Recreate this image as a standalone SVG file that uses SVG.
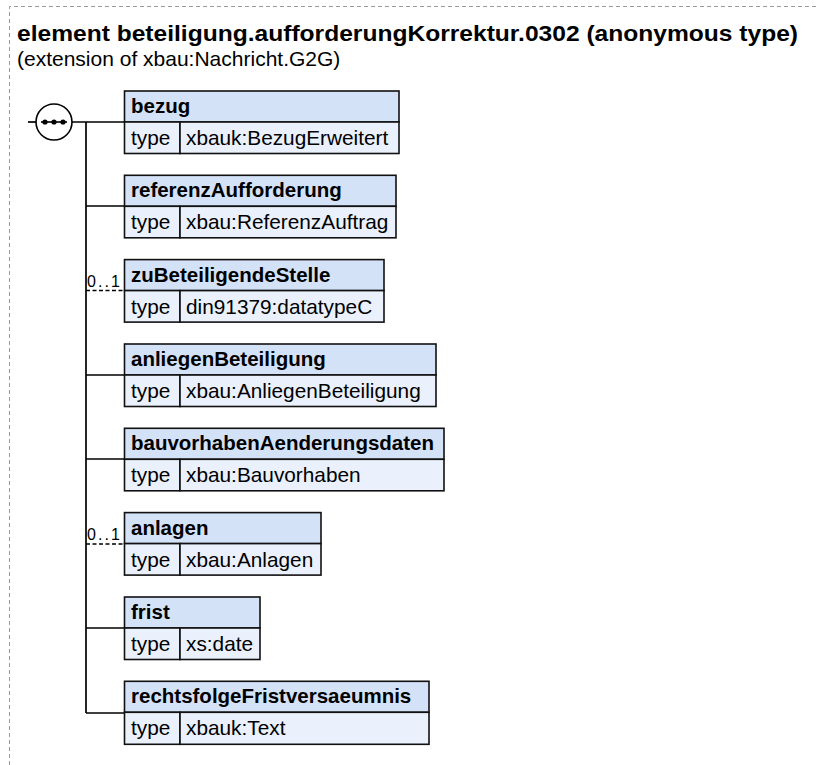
<svg xmlns="http://www.w3.org/2000/svg" width="819" height="765" viewBox="0 0 819 765">
<style>
.hd{fill:#d4e2f8;stroke:#111;stroke-width:1.6}
.ty{fill:#eaf1fc;stroke:#111;stroke-width:1.6}
.nm{font-family:"Liberation Sans",Arial,sans-serif;font-size:20.5px;font-weight:bold;fill:#000}
.tx{font-family:"Liberation Sans",Arial,sans-serif;font-size:20.8px;fill:#000}
.ln{stroke:#000;stroke-width:1.7;fill:none}
.opt{stroke:#000;stroke-width:1.4;fill:none;stroke-dasharray:4,2.5}
.oc{font-family:"Liberation Sans",Arial,sans-serif;font-size:16px;fill:#000}
</style>
<rect width="819" height="765" fill="#fff"/>
<path d="M9.5,765 V6.5 H819" fill="none" stroke="#9a9a9a" stroke-width="1" stroke-dasharray="4,3"/>
<text x="17" y="41" font-family="Liberation Sans,Arial,sans-serif" font-size="22" font-weight="bold" textLength="781" lengthAdjust="spacingAndGlyphs">element beteiligung.aufforderungKorrektur.0302 (anonymous type)</text>
<text x="17" y="66" font-family="Liberation Sans,Arial,sans-serif" font-size="21">(extension of xbau:Nachricht.G2G)</text>
<g id="connectors">
<line class="ln" x1="28" y1="122" x2="36" y2="122"/>
<line class="ln" x1="72" y1="122" x2="125" y2="122"/>
<line class="ln" x1="86" y1="122" x2="86" y2="713"/>
<line class="ln" x1="86" y1="206" x2="125" y2="206"/>
<line class="opt" x1="86" y1="290.5" x2="125" y2="290.5"/>
<line class="ln" x1="86" y1="375" x2="125" y2="375"/>
<line class="ln" x1="86" y1="459" x2="125" y2="459"/>
<line class="opt" x1="86" y1="544" x2="125" y2="544"/>
<line class="ln" x1="86" y1="628" x2="125" y2="628"/>
<line class="ln" x1="86" y1="713" x2="125" y2="713"/>
<text class="oc" x="87" y="287" textLength="33" lengthAdjust="spacing">0..1</text>
<text class="oc" x="87" y="540" textLength="33" lengthAdjust="spacing">0..1</text>
</g>
<g id="sequence">
<circle cx="54" cy="122" r="18" fill="#fff" stroke="#000" stroke-width="1.6"/>
<line x1="41" y1="122" x2="67" y2="122" stroke="#000" stroke-width="1.6"/>
<circle cx="45" cy="122" r="2.6"/><circle cx="54" cy="122" r="2.6"/><circle cx="63" cy="122" r="2.6"/>
</g>
<g id="bezug">
<rect class="hd" x="124.5" y="91" width="274.5" height="31"/>
<rect class="ty" x="124.5" y="122" width="55.5" height="31.5"/>
<rect class="ty" x="180" y="122" width="219" height="31.5"/>
<text class="nm" x="131" y="113">bezug</text>
<text class="tx" x="131" y="145">type</text>
<text class="tx" x="186" y="145">xbauk:BezugErweitert</text>
</g>
<g id="referenzAufforderung">
<rect class="hd" x="124.5" y="175.3" width="271.5" height="31"/>
<rect class="ty" x="124.5" y="206.3" width="55.5" height="31.5"/>
<rect class="ty" x="180" y="206.3" width="216" height="31.5"/>
<text class="nm" x="131" y="197.3">referenzAufforderung</text>
<text class="tx" x="131" y="229.3">type</text>
<text class="tx" x="186" y="229.3">xbau:ReferenzAuftrag</text>
</g>
<g id="zuBeteiligendeStelle">
<rect class="hd" x="124.5" y="259.6" width="259.5" height="31"/>
<rect class="ty" x="124.5" y="290.6" width="55.5" height="31.5"/>
<rect class="ty" x="180" y="290.6" width="204" height="31.5"/>
<text class="nm" x="131" y="281.6">zuBeteiligendeStelle</text>
<text class="tx" x="131" y="313.6">type</text>
<text class="tx" x="186" y="313.6">din91379:datatypeC</text>
</g>
<g id="anliegenBeteiligung">
<rect class="hd" x="124.5" y="344" width="311.5" height="31"/>
<rect class="ty" x="124.5" y="375" width="55.5" height="31.5"/>
<rect class="ty" x="180" y="375" width="256" height="31.5"/>
<text class="nm" x="131" y="366">anliegenBeteiligung</text>
<text class="tx" x="131" y="398">type</text>
<text class="tx" x="186" y="398">xbau:AnliegenBeteiligung</text>
</g>
<g id="bauvorhabenAenderungsdaten">
<rect class="hd" x="124.5" y="428.3" width="319.5" height="31"/>
<rect class="ty" x="124.5" y="459.3" width="55.5" height="31.5"/>
<rect class="ty" x="180" y="459.3" width="264" height="31.5"/>
<text class="nm" x="131" y="450.3">bauvorhabenAenderungsdaten</text>
<text class="tx" x="131" y="482.3">type</text>
<text class="tx" x="186" y="482.3">xbau:Bauvorhaben</text>
</g>
<g id="anlagen">
<rect class="hd" x="124.5" y="512.6" width="196.5" height="31"/>
<rect class="ty" x="124.5" y="543.6" width="55.5" height="31.5"/>
<rect class="ty" x="180" y="543.6" width="141" height="31.5"/>
<text class="nm" x="131" y="534.6">anlagen</text>
<text class="tx" x="131" y="566.6">type</text>
<text class="tx" x="186" y="566.6">xbau:Anlagen</text>
</g>
<g id="frist">
<rect class="hd" x="124.5" y="597" width="135.5" height="31"/>
<rect class="ty" x="124.5" y="628" width="55.5" height="31.5"/>
<rect class="ty" x="180" y="628" width="80" height="31.5"/>
<text class="nm" x="131" y="619">frist</text>
<text class="tx" x="131" y="651">type</text>
<text class="tx" x="186" y="651">xs:date</text>
</g>
<g id="rechtsfolgeFristversaeumnis">
<rect class="hd" x="124.5" y="681.3" width="304.5" height="31"/>
<rect class="ty" x="124.5" y="712.3" width="55.5" height="32"/>
<rect class="ty" x="180" y="712.3" width="249" height="32"/>
<text class="nm" x="131" y="703.3">rechtsfolgeFristversaeumnis</text>
<text class="tx" x="131" y="735.3">type</text>
<text class="tx" x="186" y="735.3">xbauk:Text</text>
</g>
</svg>
